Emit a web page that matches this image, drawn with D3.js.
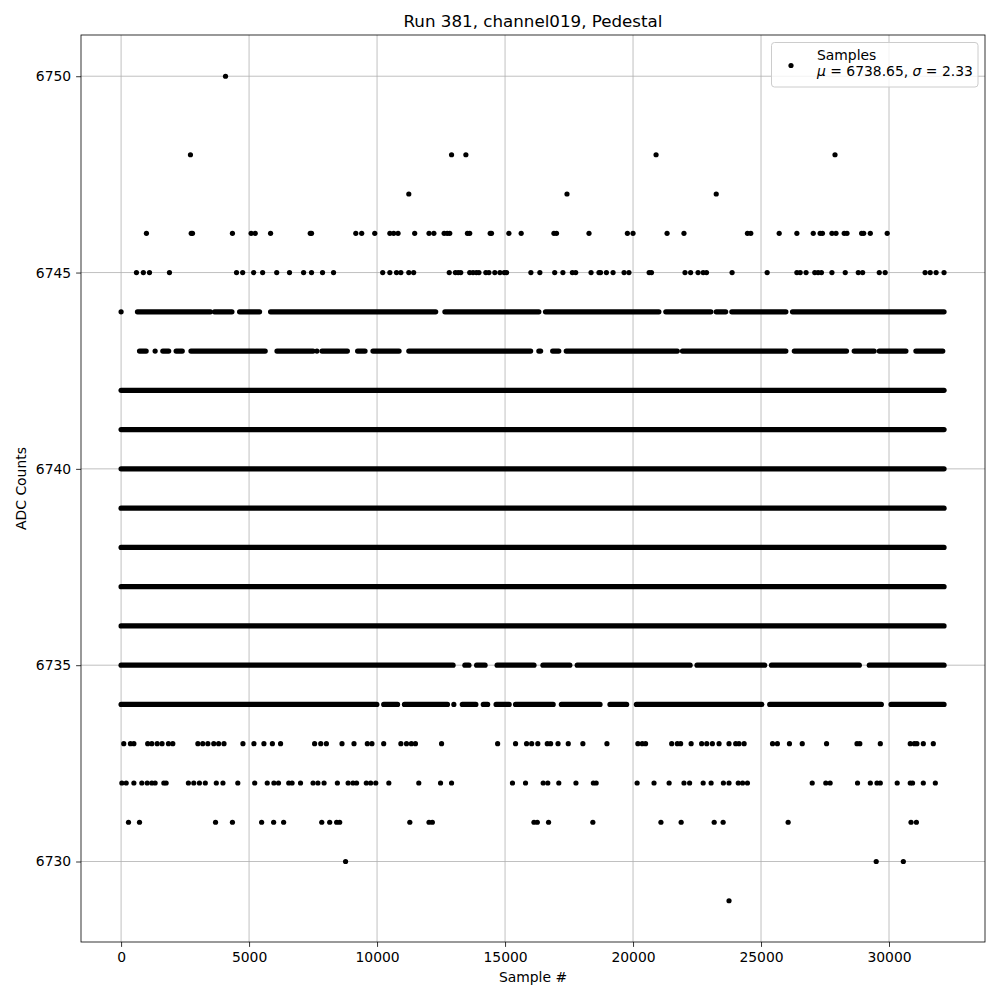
<!DOCTYPE html>
<html>
<head>
<meta charset="utf-8">
<script src="https://cdn.jsdelivr.net/npm/d3@7"></script>
<style>
  body { margin: 0; background: #fff; }
  text { font-family: "DejaVu Sans", sans-serif; }
</style>
</head>
<body>
<svg id="chart" width="1000" height="1000"></svg>
<script>
// Sample index where every dense row stops
var lastSample = 32150;

// Rows that are filled over the whole run
var fullRows = [6736, 6737, 6738, 6739, 6740, 6741, 6742];

// Rows that are dense but broken: [first sample, last sample] of each run of dots
var runs6744 = [[0, 0], [640, 3490], [3650, 4330], [4630, 5410], [5840, 12290], [12650, 16320],
  [16580, 21010], [21280, 23040], [23250, 23620], [23860, 25970], [26230, 32150]];
var runs6743 = [[720, 980], [1330, 1330], [1630, 1860], [2150, 2390], [2730, 5630], [6090, 7500],
  [7650, 7650], [7850, 8840], [9240, 9530], [9840, 10860], [11240, 16000], [16320, 16390],
  [16860, 17100], [17390, 21730], [21930, 25970], [26300, 28340], [28640, 29420],
  [29620, 30660], [31050, 32100]];
var runs6735 = [[0, 12970], [13430, 13590], [13890, 14220], [14690, 16130], [16480, 17530],
  [17820, 22230], [22500, 25140], [25410, 28840], [29230, 32150]];
var runs6734 = [[0, 9990], [10260, 10800], [11070, 12750], [13000, 13000], [13330, 13860],
  [14150, 14320], [14650, 15160], [15410, 16880], [17200, 18710], [19100, 19750],
  [20130, 25030], [25340, 29700], [30080, 32150]];

// Sparse rows: sample index of every dot
var pts6750 = [4080];
var pts6748 = [2710, 12910, 13470, 20900, 27890];
var pts6747 = [11240, 17420, 23250];
var pts6746 = [990, 2740, 2790, 4350, 5080, 5240, 5840, 7390, 7440, 9170, 9400, 9910, 10500,
  10650, 10820, 11470, 12030, 12220, 12620, 12740, 12840, 13530, 13620, 14420, 14470, 15150,
  15630, 16910, 17010, 18280, 19780, 20000, 21330, 21990, 24470, 24600, 25710, 26400, 27040,
  27310, 27400, 27770, 27930, 28250, 28360, 28930, 29010, 29270, 29930];
var pts6745 = [600, 870, 1110, 1890, 4510, 4750, 5180, 5530, 6080, 6580, 7130, 7440, 7870,
  8300, 10220, 10500, 10760, 10930, 11240, 11430, 12820, 13060, 13170, 13270, 13620, 13750,
  13880, 13980, 14250, 14370, 14600, 14800, 14970, 15060, 16010, 16360, 16940, 17260, 17630,
  17760, 18360, 18670, 18730, 18960, 19220, 19650, 19840, 20630, 20720, 22030, 22250, 22540,
  22740, 22870, 23870, 25240, 26400, 26530, 26760, 27100, 27230, 27360, 27770, 28290, 28800,
  28970, 29620, 29850, 31410, 31610, 31840, 32150];
var pts6733 = [105, 365, 500, 1040, 1200, 1410, 1600, 1850, 2020, 3000, 3190, 3390, 3620, 3810,
  4020, 4760, 5190, 5580, 5910, 6230, 7560, 7800, 8020, 8630, 9100, 9620, 9800, 10260, 10930,
  11150, 11340, 11500, 12520, 14710, 15410, 15840, 16040, 16280, 16650, 16780, 17070, 17470,
  18040, 18980, 20190, 20360, 20490, 21510, 21730, 21860, 22270, 22680, 22880, 23100, 23360,
  23750, 24010, 24140, 24340, 25450, 25640, 26110, 26610, 27560, 28750, 28860, 29660, 30830,
  30990, 31090, 31340, 31730];
var pts6732 = [30, 200, 500, 810, 1020, 1200, 1330, 1670, 1760, 2630, 2840, 3060, 3290, 3720,
  3980, 4560, 5220, 5710, 5970, 6150, 6550, 6680, 7010, 7500, 7690, 7930, 8450, 8870, 9060,
  9200, 9580, 9750, 9950, 10460, 11630, 12480, 12910, 15290, 15800, 16490, 16670, 17100,
  17770, 18450, 18560, 20160, 20820, 21410, 21990, 22210, 22740, 23050, 23530, 23750, 24110,
  24280, 24470, 27000, 27530, 27700, 28770, 29270, 29530, 29660, 30320, 30830, 30920, 31340,
  31810];
var pts6731 = [290, 720, 3690, 4350, 5490, 5960, 6350, 7840, 8150, 8420, 8540, 11280, 12030,
  12160, 16130, 16260, 16700, 18430, 21090, 21880, 23170, 23520, 26060, 30860, 31070];
var pts6730 = [8770, 29500, 30560];
var pts6729 = [23750];

var xTicks = [0, 5000, 10000, 15000, 20000, 25000, 30000];
var yTicks = [6730, 6735, 6740, 6745, 6750];
var chartTitle = 'Run 381, channel019, Pedestal';
var xLabel = 'Sample #';
var yLabel = 'ADC Counts';

var plotL = 81, plotR = 985, plotT = 35, plotB = 942;
var dotR = 2.6;

var svg = d3.select('#chart');

var x = d3.scaleLinear().domain([-1566, 33750]).range([plotL, plotR]);
var y = d3.scaleLinear().domain([6727.95, 6751.05]).range([plotB, plotT]);

// grid
var grid = svg.append('g').attr('stroke', '#b0b0b0').attr('stroke-width', 0.8);
grid.selectAll('line.gx').data(xTicks).enter().append('line')
    .attr('x1', function(d) { return x(d); }).attr('x2', function(d) { return x(d); })
    .attr('y1', plotT).attr('y2', plotB);
grid.selectAll('line.gy').data(yTicks).enter().append('line')
    .attr('y1', function(d) { return y(d); }).attr('y2', function(d) { return y(d); })
    .attr('x1', plotL).attr('x2', plotR);

// build row lists
var runRows = fullRows.map(function(v) { return {v: v, runs: [[0, lastSample]]}; });
runRows.push({v: 6744, runs: runs6744});
runRows.push({v: 6743, runs: runs6743});
runRows.push({v: 6735, runs: runs6735});
runRows.push({v: 6734, runs: runs6734});

var segs = [];
runRows.forEach(function(r) {
  r.runs.forEach(function(s) { segs.push({v: r.v, a: s[0], b: s[1]}); });
});

var pointRows = [[6750, pts6750], [6748, pts6748], [6747, pts6747], [6746, pts6746],
  [6745, pts6745], [6733, pts6733], [6732, pts6732], [6731, pts6731], [6730, pts6730],
  [6729, pts6729]];
var pts = [];
pointRows.forEach(function(r) {
  r[1].forEach(function(s) { pts.push({v: r[0], s: s}); });
});

var plot = svg.append('g');
plot.selectAll('line.run').data(segs).enter().append('line')
    .attr('class', 'run')
    .attr('x1', function(d) { return x(d.a); })
    .attr('x2', function(d) { return x(d.b) + 0.01; })
    .attr('y1', function(d) { return y(d.v); })
    .attr('y2', function(d) { return y(d.v); })
    .attr('stroke', '#000')
    .attr('stroke-width', dotR * 2)
    .attr('stroke-linecap', 'round');

plot.selectAll('circle').data(pts).enter().append('circle')
    .attr('cx', function(d) { return x(d.s); })
    .attr('cy', function(d) { return y(d.v); })
    .attr('r', dotR)
    .attr('fill', '#000');

// axes
var xAxis = d3.axisBottom(x).tickValues(xTicks).tickSize(4.9).tickPadding(4.9)
    .tickFormat(d3.format('d'));
var yAxis = d3.axisLeft(y).tickValues(yTicks).tickSize(4.9).tickPadding(4.9)
    .tickFormat(d3.format('d'));

var gx = svg.append('g').attr('transform', 'translate(0,' + plotB + ')').call(xAxis);
var gy = svg.append('g').attr('transform', 'translate(' + plotL + ',0)').call(yAxis);
[gx, gy].forEach(function(g) {
  g.select('.domain').remove();
  g.selectAll('.tick line').attr('stroke', '#000').attr('stroke-width', 0.8);
  g.selectAll('.tick text').attr('fill', '#000').attr('font-size', 13.9)
      .attr('font-family', '"DejaVu Sans", sans-serif');
});

// frame
svg.append('rect').attr('x', plotL).attr('y', plotT)
    .attr('width', plotR - plotL).attr('height', plotB - plotT)
    .attr('fill', 'none').attr('stroke', '#000').attr('stroke-width', 0.8);

// labels
svg.append('text').attr('x', (plotL + plotR) / 2).attr('y', 27)
    .attr('text-anchor', 'middle').attr('font-size', 16.7).text(chartTitle);
svg.append('text').attr('x', (plotL + plotR) / 2).attr('y', 982)
    .attr('text-anchor', 'middle').attr('font-size', 13.9).text(xLabel);
svg.append('text').attr('transform', 'translate(26,' + (plotT + plotB) / 2 + ') rotate(-90)')
    .attr('text-anchor', 'middle').attr('font-size', 13.9).text(yLabel);

// legend
var lg = svg.append('g');
lg.append('rect').attr('x', 771.5).attr('y', 42.5).attr('width', 206.5).attr('height', 44.5)
    .attr('rx', 3).attr('fill', '#fff').attr('fill-opacity', 0.8)
    .attr('stroke', '#cccccc').attr('stroke-width', 1);
lg.append('circle').attr('cx', 791).attr('cy', 65.5).attr('r', dotR).attr('fill', '#000');
lg.append('text').attr('x', 817).attr('y', 59.5).attr('font-size', 13.9).text('Samples');
var stats = lg.append('text').attr('x', 817).attr('y', 76).attr('font-size', 13.9);
stats.append('tspan').attr('font-style', 'italic').text('μ');
stats.append('tspan').text(' = 6738.65, ');
stats.append('tspan').attr('font-style', 'italic').text('σ');
stats.append('tspan').text(' = 2.33');
</script>
</body>
</html>
